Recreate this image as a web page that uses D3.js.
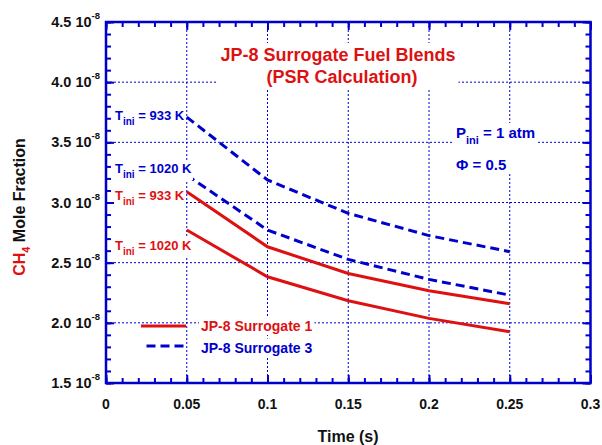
<!DOCTYPE html>
<html><head><meta charset="utf-8">
<script src="https://cdn.jsdelivr.net/npm/d3@7"></script>
<style>body{margin:0;background:#fff}svg{display:block}svg text{font-family:"Liberation Sans",Arial,sans-serif;font-weight:bold}</style>
</head><body>
<script>
const times = [0.05, 0.1, 0.15, 0.2, 0.25];
const s1_933  = [3.09e-8, 2.632e-8, 2.41e-8, 2.267e-8, 2.159e-8];
const s1_1020 = [2.771e-8, 2.383e-8, 2.184e-8, 2.037e-8, 1.926e-8];
const s3_933  = [3.71e-8, 3.187e-8, 2.91e-8, 2.725e-8, 2.591e-8];
const s3_1020 = [3.228e-8, 2.771e-8, 2.527e-8, 2.361e-8, 2.23e-8];
const xTicks = [0, 0.05, 0.1, 0.15, 0.2, 0.25, 0.3];
const xTickLabels = ["0", "0.05", "0.1", "0.15", "0.2", "0.25", "0.3"];
const yTicks = [1.5e-8, 2.0e-8, 2.5e-8, 3.0e-8, 3.5e-8, 4.0e-8, 4.5e-8];
const yTickLabels = ["1.5", "2.0", "2.5", "3.0", "3.5", "4.0", "4.5"];
const legendLabels = ["JP-8 Surrogate 1", "JP-8 Surrogate 3"];

const RED = "#DD1111", BLUE = "#0000CC";
const W = 602, H = 445;
const L = 106, R = 590.5, T = 22, B = 383;
const svg = d3.select("body").append("svg").attr("width", W).attr("height", H);
const x = d3.scaleLinear().domain([0, 0.3]).range([L, R]);
const y = d3.scaleLinear().domain([1.5e-8, 4.5e-8]).range([B, T]);
const fs = (sel, v) => sel.style("font-size", v + "px");

// grid
const g = svg.append("g");
g.selectAll("line.gx").data(xTicks.slice(1, -1)).join("line").attr("class", "gx")
  .attr("x1", d => x(d)).attr("x2", d => x(d)).attr("y1", T).attr("y2", B)
  .attr("stroke", BLUE).attr("stroke-width", 1).attr("stroke-dasharray", "2,2");
g.selectAll("line.gy").data(yTicks.slice(1, -1)).join("line").attr("class", "gy")
  .attr("y1", d => y(d)).attr("y2", d => y(d)).attr("x1", L).attr("x2", R)
  .attr("stroke", BLUE).attr("stroke-width", 1).attr("stroke-dasharray", "2,2");

// lines
const line = d3.line().x((d, i) => x(times[i])).y(d => y(d));
[[s1_933, RED, null], [s1_1020, RED, null], [s3_933, BLUE, "9,5"], [s3_1020, BLUE, "9,5"]].forEach(([s, c, da]) => {
  svg.append("path").datum(s).attr("d", line).attr("fill", "none")
    .attr("stroke", c).attr("stroke-width", 3).attr("stroke-dasharray", da);
});

function boxed(gr, pad) {
  const bb = gr.node().getBBox();
  gr.insert("rect", ":first-child").attr("x", bb.x - pad).attr("y", bb.y - pad + 1)
    .attr("width", bb.width + 2 * pad).attr("height", bb.height + 2 * pad - 2).attr("fill", "#fff");
}

// annotations
function tini(px, py, label, color) {
  const gr = svg.append("g");
  const t = gr.append("text").attr("x", px).attr("y", py).attr("fill", color).call(fs, 13);
  t.append("tspan").text("T");
  t.append("tspan").call(fs, 10).attr("dy", 5).text("ini");
  t.append("tspan").attr("dy", -5).text(" = " + label);
  boxed(gr, 1);
}
tini(115, 120, "933 K", BLUE);
tini(115, 173, "1020 K", BLUE);
tini(115, 200, "933 K", RED);
tini(115, 249.5, "1020 K", RED);

// title
const tg = svg.append("g");
tg.append("text").attr("x", 338).attr("y", 61).attr("text-anchor", "middle").attr("fill", RED).call(fs, 18).text("JP-8 Surrogate Fuel Blends");
tg.append("text").attr("x", 342).attr("y", 83).attr("text-anchor", "middle").attr("fill", RED).call(fs, 18).text("(PSR Calculation)");
boxed(tg, 3);

// P / Phi
const pg = svg.append("g");
const pt = pg.append("text").attr("x", 456).attr("y", 138).attr("fill", BLUE).call(fs, 15);
pt.append("tspan").text("P");
pt.append("tspan").call(fs, 11).attr("dy", 6).text("ini");
pt.append("tspan").attr("dy", -6).text(" = 1 atm");
pg.append("text").attr("x", 456).attr("y", 170).attr("fill", BLUE).call(fs, 15).text("Φ = 0.5");
boxed(pg, 2);

// legend
const lg = svg.append("g");
lg.append("line").attr("x1", 141).attr("x2", 186).attr("y1", 326).attr("y2", 326).attr("stroke", RED).attr("stroke-width", 3);
lg.append("line").attr("x1", 146.5).attr("x2", 184).attr("y1", 346).attr("y2", 346).attr("stroke", BLUE).attr("stroke-width", 3).attr("stroke-dasharray", "9,5");
[[legendLabels[0], RED, 331], [legendLabels[1], BLUE, 352.5]].forEach(([lab, c, yy]) => {
  const gr = lg.append("g");
  gr.append("text").attr("x", 201).attr("y", yy).attr("fill", c).call(fs, 14).text(lab);
  boxed(gr, 2);
});

// axes with inward ticks
const xMinor = d3.range(0, 0.3001, 0.01);
const yMinor = d3.range(1.5e-8, 4.5001e-8, 0.1e-8);
function ax(gen, sc, vals, size, tr) {
  svg.append("g").attr("transform", tr)
    .call(gen(sc).tickValues(vals).tickSize(size).tickFormat(""))
    .call(s => { s.select(".domain").remove(); s.selectAll("text").remove(); s.selectAll("line").attr("stroke", BLUE).attr("stroke-width", 2); });
}
ax(d3.axisBottom, x, xMinor, -5, `translate(0,${B})`);
ax(d3.axisBottom, x, xTicks, -8, `translate(0,${B})`);
ax(d3.axisTop, x, xMinor, -5, `translate(0,${T})`);
ax(d3.axisTop, x, xTicks, -8, `translate(0,${T})`);
ax(d3.axisLeft, y, yMinor, -5, `translate(${L},0)`);
ax(d3.axisLeft, y, yTicks, -8, `translate(${L},0)`);
ax(d3.axisRight, y, yMinor, -5, `translate(${R},0)`);
ax(d3.axisRight, y, yTicks, -8, `translate(${R},0)`);

svg.append("rect").attr("x", L).attr("y", T).attr("width", R - L).attr("height", B - T)
  .attr("fill", "none").attr("stroke", BLUE).attr("stroke-width", 2.5);

// tick labels
const xl = svg.append("g");
xTicks.forEach((v, i) => {
  xl.append("text").attr("x", x(v)).attr("y", 409).attr("text-anchor", "middle").call(fs, 14).attr("fill", "#111").text(xTickLabels[i]);
});
const yl = svg.append("g");
yTicks.forEach((v, i) => {
  const t = yl.append("text").attr("x", 100).attr("y", y(v) + 5).attr("text-anchor", "end").attr("fill", "#111").call(fs, 14.5);
  t.append("tspan").text(yTickLabels[i] + " 10");
  t.append("tspan").call(fs, 9.5).attr("dy", -8).text("-8");
});

// axis titles
svg.append("text").attr("x", 348).attr("y", 442).attr("text-anchor", "middle").call(fs, 16).attr("fill", "#111").text("Time (s)");
const yt = svg.append("text").attr("transform", "translate(25,207) rotate(-90)").attr("text-anchor", "middle").call(fs, 16);
yt.append("tspan").attr("fill", RED).text("CH");
yt.append("tspan").attr("fill", RED).call(fs, 11).attr("dy", 5).text("4");
yt.append("tspan").attr("fill", "#111").attr("dy", -5).text(" Mole Fraction");
</script>
</body></html>
